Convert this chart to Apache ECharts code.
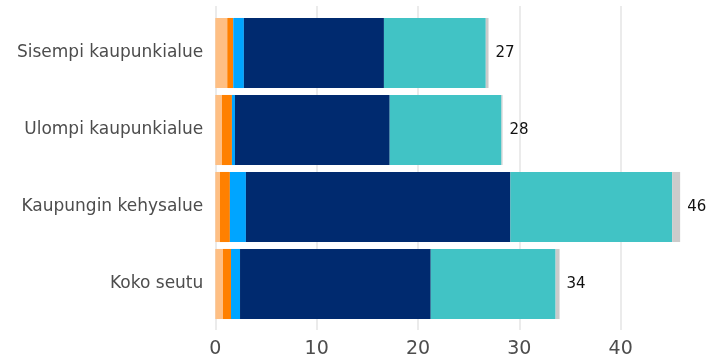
<!DOCTYPE html>
<html><head><meta charset="utf-8">
<script src="https://cdn.jsdelivr.net/npm/echarts@6/dist/echarts.min.js"></script>
<style>html,body{margin:0;padding:0;background:#fff}#c{width:722px;height:360px}</style>
</head><body><div id="c"></div>
<script>
const categories = ["Sisempi kaupunkialue", "Ulompi kaupunkialue", "Kaupungin kehysalue", "Koko seutu"];
const seriesNames = ["s1", "s2", "s3", "s4", "s5", "s6"];
const colors = ["#FEBF84", "#FF8000", "#00A5FF", "#002A6F", "#41C3C5", "#CBCBCB"];
const s1 = [1.18, 0.66, 0.46, 0.76];
const s2 = [0.59, 0.98, 0.98, 0.79];
const s3 = [1.05, 0.30, 1.58, 0.89];
const s4 = [13.82, 15.27, 26.10, 18.82];
const s5 = [10.05, 11.03, 15.96, 12.32];
const s6 = [0.27, 0.10, 0.79, 0.39];
const xTicks = [0, 10, 20, 30, 40];

const all = [s1, s2, s3, s4, s5, s6];
const totals = categories.map((_, i) => all.reduce((a, s) => a + s[i], 0));
const font = "DejaVu Sans";
const chart = echarts.init(document.getElementById('c'), null, {renderer: 'canvas'});
chart.setOption({
  animation: false,
  grid: [
    {left: 215.3, right: 0, top: 14.5, bottom: 37.5},
    {left: 215.3, right: 0, top: 6, bottom: 30}
  ],
  xAxis: [
    {gridIndex: 0, type: 'value', min: 0, max: 50, interval: 10, show: false},
    {gridIndex: 1, type: 'value', min: 0, max: 50, interval: 10,
     axisLine: {show: false}, axisTick: {show: false},
     splitLine: {show: true, showMaxLine: false, lineStyle: {color: '#EBEBEB', width: 2}},
     axisLabel: {color: '#4D4D4D', fontSize: 19, fontFamily: font, margin: 10, showMaxLabel: false,
       formatter: v => xTicks.includes(v) ? String(v) : ''}}
  ],
  yAxis: [
    {gridIndex: 0, type: 'category', data: categories, inverse: true,
     axisLine: {show: false}, axisTick: {show: false},
     axisLabel: {color: '#4D4D4D', fontSize: 17, fontFamily: font, margin: 12}},
    {gridIndex: 1, type: 'category', data: categories, show: false}
  ],
  series: all.map((d, k) => ({
    type: 'bar', name: seriesNames[k], stack: 'total', xAxisIndex: 0, yAxisIndex: 0,
    data: d, barCategoryGap: '9%', itemStyle: {color: colors[k]},
    label: k === all.length - 1 ? {show: true, position: 'right', distance: 7,
      color: '#111', fontSize: 15, fontFamily: font,
      formatter: p => String(Math.round(totals[p.dataIndex]))} : {show: false}
  }))
});
</script></body></html>
